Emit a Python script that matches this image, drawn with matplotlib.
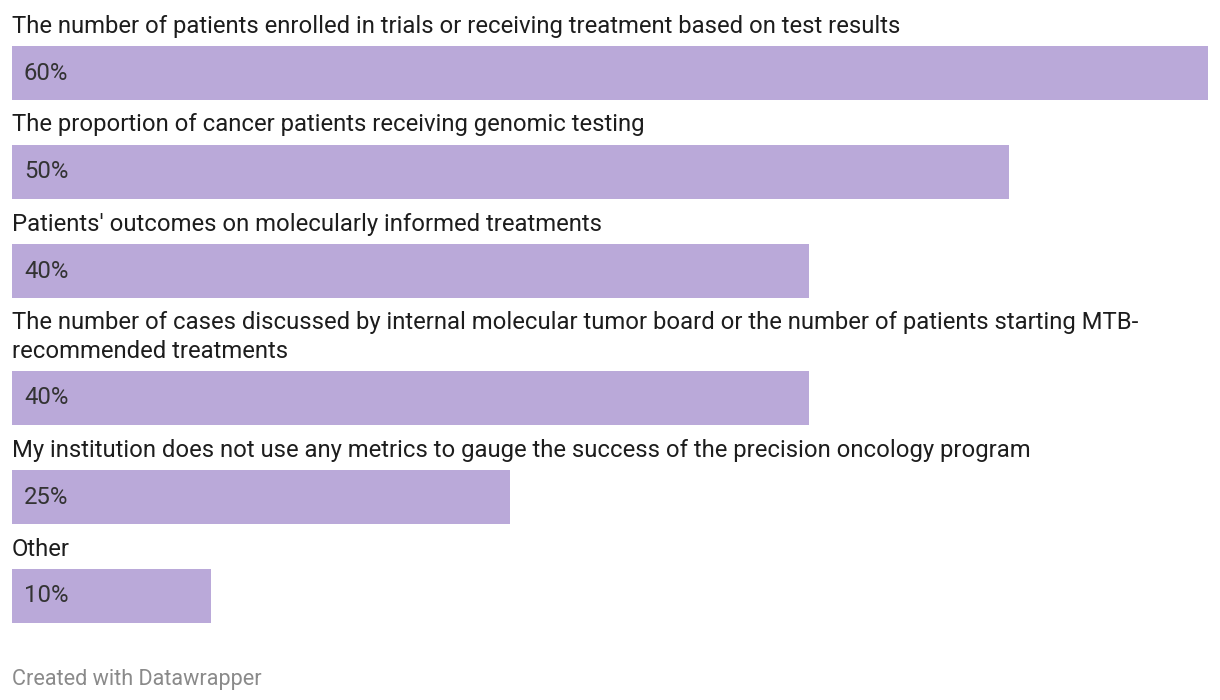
import matplotlib
matplotlib.use("Agg")
import matplotlib.pyplot as plt

plt.rcParams['font.family'] = ['Roboto', 'DejaVu Sans']

labels = [
    "The number of patients enrolled in trials or receiving treatment based on test results",
    "The proportion of cancer patients receiving genomic testing",
    "Patients' outcomes on molecularly informed treatments",
    "The number of cases discussed by internal molecular tumor board or the number of patients starting MTB-\nrecommended treatments",
    "My institution does not use any metrics to gauge the success of the precision oncology program",
    "Other",
]
values = [60, 50, 40, 40, 25, 10]

BAR_COLOR = '#baa9d9'
W, H = 1220, 700

fig = plt.figure(figsize=(W / 100, H / 100), dpi=100)
fig.set_facecolor('white')
ax = fig.add_axes([12 / W, 0, (1208 - 12) / W, 1])
ax.set_xlim(0, 60)
ax.set_ylim(H, 0)  # y in pixels, top-down
ax.axis('off')

# row layout: label line(s) then bar
bar_h = 54
line_h = 28
y = 46
centers = []
for lab in labels:
    nlines = lab.count('\n') + 1
    y += (nlines - 1) * line_h
    centers.append(y + bar_h / 2)
    y += 99

ax.barh(centers, values, height=bar_h, color=BAR_COLOR, left=0)

for lab, v, c in zip(labels, values, centers):
    lines = lab.split('\n')
    top = c - bar_h / 2
    for i, ln in enumerate(lines):
        base = top - 13.5 - (len(lines) - 1 - i) * line_h
        ax.text(0, base, ln, ha='left', va='baseline', fontsize=17.2, color='#1d1d1d')
    ax.text(0.6, c + 6.5, f"{v}%", ha='left', va='baseline', fontsize=17.2, color='#333333')

fig.text(12 / W, 1 - 685 / H, "Created with Datawrapper", ha='left', va='baseline',
         fontsize=15.6, color='#8a8a8a')

fig.savefig('out.png', dpi=100, facecolor='white')
